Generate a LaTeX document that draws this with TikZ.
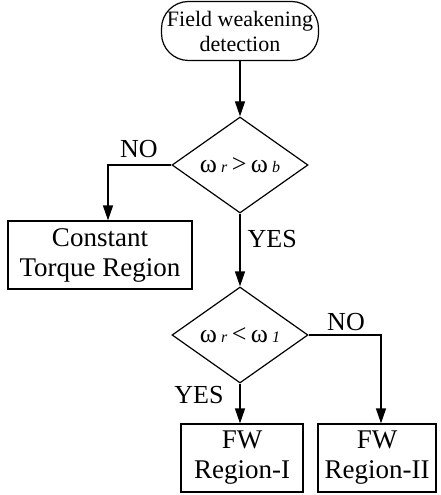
\documentclass[tikz,border=0pt]{standalone}
\usepackage{fontspec}
\setmainfont{Liberation Serif}
\usetikzlibrary{shapes.geometric,arrows.meta}
\newcommand{\subtxt}[1]{{\fontsize{16}{16}\selectfont\itshape #1}}
\begin{document}
\begin{tikzpicture}[x=1pt,y=-1pt,
  line width=1.2pt,
  arr/.style={-{Triangle[length=15pt,width=10pt]}},
  term/.style={draw,rounded corners=27pt,minimum width=157pt,minimum height=59pt,inner sep=0pt,align=center,font=\fontsize{22}{25}\selectfont},
  dec/.style={draw,diamond,inner sep=0pt,minimum width=136pt,minimum height=96pt,font=\fontsize{26}{26}\selectfont},
  proc/.style={draw,minimum height=68pt,inner sep=0pt,align=center,font=\fontsize{27}{30}\selectfont},
  lbl/.style={inner sep=0pt,anchor=base,font=\fontsize{26}{28}\selectfont}]
\useasboundingbox (0,0) rectangle (441,495);
\node[term] (start) at (240,31) {Field weakening\\detection};
\node[dec] (d1) at (240,165) {ω\,\subtxt{r}\,>\,ω\,\subtxt{b}};
\node[dec] (d2) at (240,335) {ω\,\subtxt{r}\,<\,ω\,\subtxt{1}};
\node[proc,minimum width=184pt] (ctr) at (100,255) {Constant\\Torque Region};
\node[proc,minimum width=122pt] (fw1) at (242,458) {FW\\Region-I};
\node[proc,minimum width=118pt] (fw2) at (377,458) {FW\\Region-II};
\coordinate (c1) at (108,165);
\coordinate (c2) at (381,335);
\draw[arr] (start) -- (d1);
\draw[arr] (d1.west) -- (c1) -- (c1 |- ctr.north);
\draw[arr] (d1.south) -- (d2.north);
\draw[arr] (d2.south) -- (d2.south |- fw1.north);
\draw[arr] (d2.east) -- (c2) -- (c2 |- fw2.north);
\node[lbl] (no1) at (139,157) {NO};
\node[lbl,anchor=base west] (yes1) at (247,247) {YES};
\node[lbl] (no2) at (346,330) {NO};
\node[lbl] (yes2) at (199,403) {YES};
\end{tikzpicture}
\end{document}
